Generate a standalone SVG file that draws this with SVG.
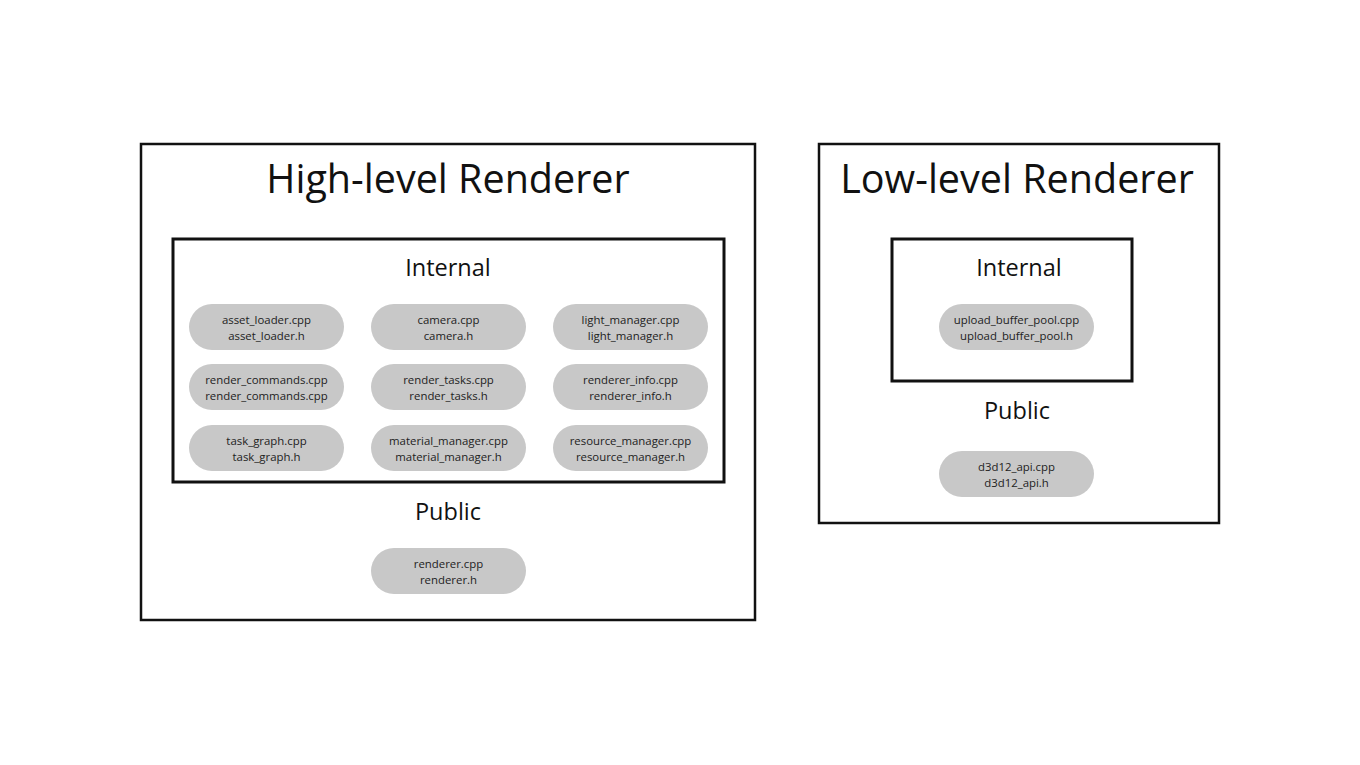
<svg xmlns="http://www.w3.org/2000/svg" width="1360" height="765" viewBox="0 0 1360 765">
<style>
.frame{fill:none;stroke:#111;stroke-width:2.5}
.inner{fill:none;stroke:#111;stroke-width:3}
.pill{fill:#c8c8c8}
text{font-family:"Open Sans","Noto Sans",sans-serif;fill:#111;text-anchor:middle}
.title{font-size:39.5px}
.sec{font-size:23.5px}
.file{font-size:11.4px;fill:#222}
</style>
<rect width="1360" height="765" fill="#fff"/>
<g id="high-level">
<rect class="frame" x="141" y="144" width="614" height="476"/>
<text class="title" x="448" y="193">High-level Renderer</text>
</g>
<g id="high-internal">
<rect class="inner" x="173" y="239" width="551" height="243"/>
<text class="sec" x="448" y="276">Internal</text>
</g>
<g id="asset_loader"><rect class="pill" x="189" y="304" width="155" height="46" rx="23"/><text class="file" x="266.5" y="324">asset_loader.cpp</text><text class="file" x="266.5" y="339.5">asset_loader.h</text></g>
<g id="camera"><rect class="pill" x="371" y="304" width="155" height="46" rx="23"/><text class="file" x="448.5" y="324">camera.cpp</text><text class="file" x="448.5" y="339.5">camera.h</text></g>
<g id="light_manager"><rect class="pill" x="553" y="304" width="155" height="46" rx="23"/><text class="file" x="630.5" y="324">light_manager.cpp</text><text class="file" x="630.5" y="339.5">light_manager.h</text></g>
<g id="render_commands"><rect class="pill" x="189" y="364" width="155" height="46" rx="23"/><text class="file" x="266.5" y="384">render_commands.cpp</text><text class="file" x="266.5" y="399.5">render_commands.cpp</text></g>
<g id="render_tasks"><rect class="pill" x="371" y="364" width="155" height="46" rx="23"/><text class="file" x="448.5" y="384">render_tasks.cpp</text><text class="file" x="448.5" y="399.5">render_tasks.h</text></g>
<g id="renderer_info"><rect class="pill" x="553" y="364" width="155" height="46" rx="23"/><text class="file" x="630.5" y="384">renderer_info.cpp</text><text class="file" x="630.5" y="399.5">renderer_info.h</text></g>
<g id="task_graph"><rect class="pill" x="189" y="425" width="155" height="46" rx="23"/><text class="file" x="266.5" y="445">task_graph.cpp</text><text class="file" x="266.5" y="460.5">task_graph.h</text></g>
<g id="material_manager"><rect class="pill" x="371" y="425" width="155" height="46" rx="23"/><text class="file" x="448.5" y="445">material_manager.cpp</text><text class="file" x="448.5" y="460.5">material_manager.h</text></g>
<g id="resource_manager"><rect class="pill" x="553" y="425" width="155" height="46" rx="23"/><text class="file" x="630.5" y="445">resource_manager.cpp</text><text class="file" x="630.5" y="460.5">resource_manager.h</text></g>
<g id="high-public"><text class="sec" x="448" y="520">Public</text></g>
<g id="renderer"><rect class="pill" x="371" y="548" width="155" height="46" rx="23"/><text class="file" x="448.5" y="568">renderer.cpp</text><text class="file" x="448.5" y="583.5">renderer.h</text></g>
<g id="low-level">
<rect class="frame" x="819" y="144" width="400" height="379"/>
<text class="title" x="1017" y="193">Low-level Renderer</text>
</g>
<g id="low-internal">
<rect class="inner" x="892" y="239" width="240" height="142"/>
<text class="sec" x="1019" y="276">Internal</text>
</g>
<g id="upload_buffer_pool"><rect class="pill" x="939" y="304" width="155" height="46" rx="23"/><text class="file" x="1016.5" y="324">upload_buffer_pool.cpp</text><text class="file" x="1016.5" y="339.5">upload_buffer_pool.h</text></g>
<g id="low-public"><text class="sec" x="1017" y="419">Public</text></g>
<g id="d3d12_api"><rect class="pill" x="939" y="451" width="155" height="46" rx="23"/><text class="file" x="1016.5" y="471">d3d12_api.cpp</text><text class="file" x="1016.5" y="486.5">d3d12_api.h</text></g>
<g id="connectors"/>
</svg>
